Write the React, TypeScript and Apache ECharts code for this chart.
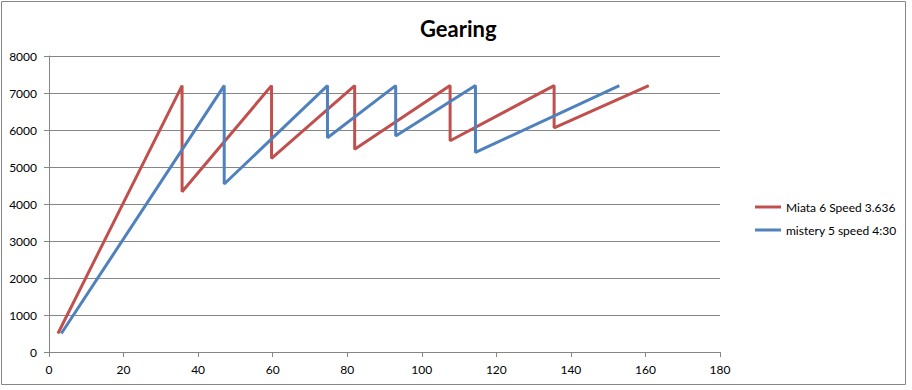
import React, { useEffect, useRef } from "react";
import * as echarts from "echarts";

const seriesNames = ["Miata 6 Speed 3.636", "mistery 5 speed 4:30"];
const miataSpeed = [2.4, 35.7, 35.7, 59.7, 59.7, 82.0, 82.0, 107.6, 107.6, 135.5, 135.5, 160.9];
const miataRpm = [500, 7200, 4330, 7200, 5230, 7200, 5480, 7200, 5710, 7200, 6060, 7200];
const misterySpeed = [3.3, 47.0, 47.0, 74.7, 74.7, 93.0, 93.0, 114.4, 114.4, 153.0];
const misteryRpm = [500, 7200, 4540, 7200, 5790, 7200, 5840, 7200, 5395, 7200];
const xTicks = { min: 0, max: 180, interval: 20 };
const yTicks = { min: 0, max: 8000, interval: 1000 };

const FONT = "Lato";
const GRAY = "#868686";

export default function App() {
  const ref = useRef<HTMLDivElement>(null);
  useEffect(() => {
    document.body.style.margin = "0";
    if (!ref.current) return;
    const chart = echarts.init(ref.current, undefined, { renderer: "svg" });
    const pair = (xs: number[], ys: number[]) => xs.map((x, i) => [x, ys[i]]);
    chart.setOption({
      animation: false,
      backgroundColor: "#ffffff",
      title: {
        text: "Gearing",
        left: 415,
        top: 12,
        textStyle: { fontFamily: FONT, fontWeight: "bold", fontSize: 22, color: "#000" },
      },
      graphic: [
        {
          type: "rect",
          shape: { x: 1.5, y: 1.5, width: 904, height: 383 },
          style: { fill: "none", stroke: GRAY, lineWidth: 1 },
          silent: true,
        },
      ],
      legend: {
        orient: "vertical",
        left: 750,
        top: 195,
        itemWidth: 26,
        itemHeight: 3,
        itemGap: 9,
        icon: "rect",
        textStyle: { fontFamily: FONT, fontSize: 12, color: "#000", lineHeight: 14 },
        data: seriesNames,
      },
      grid: { left: 49, right: 192, top: 56, bottom: 38, containLabel: false },
      xAxis: {
        type: "value",
        min: xTicks.min,
        max: xTicks.max,
        interval: xTicks.interval,
        axisLine: { show: true, lineStyle: { color: GRAY, width: 1 } },
        axisTick: { show: true, length: 5, lineStyle: { color: GRAY } },
        axisLabel: { fontFamily: FONT, fontSize: 12, color: "#000", margin: 11, formatter: (v: number) => String(v) },
        splitLine: { show: false },
      },
      yAxis: {
        type: "value",
        min: yTicks.min,
        max: yTicks.max,
        interval: yTicks.interval,
        axisLine: { show: true, lineStyle: { color: GRAY, width: 1 } },
        axisTick: { show: true, length: 5, lineStyle: { color: GRAY } },
        axisLabel: { fontFamily: FONT, fontSize: 12, color: "#000", margin: 12, formatter: (v: number) => String(v) },
        splitLine: { show: true, lineStyle: { color: GRAY, width: 1 } },
      },
      series: [
        {
          name: seriesNames[0],
          type: "line",
          data: pair(miataSpeed, miataRpm),
          showSymbol: false,
          symbol: "none",
          lineStyle: { color: "#C0504D", width: 3 },
          itemStyle: { color: "#C0504D" },
        },
        {
          name: seriesNames[1],
          type: "line",
          data: pair(misterySpeed, misteryRpm),
          showSymbol: false,
          symbol: "none",
          lineStyle: { color: "#4F81BD", width: 3 },
          itemStyle: { color: "#4F81BD" },
        },
      ],
    });
    return () => chart.dispose();
  }, []);
  return <div ref={ref} style={{ width: 912, height: 390 }} />;
}
